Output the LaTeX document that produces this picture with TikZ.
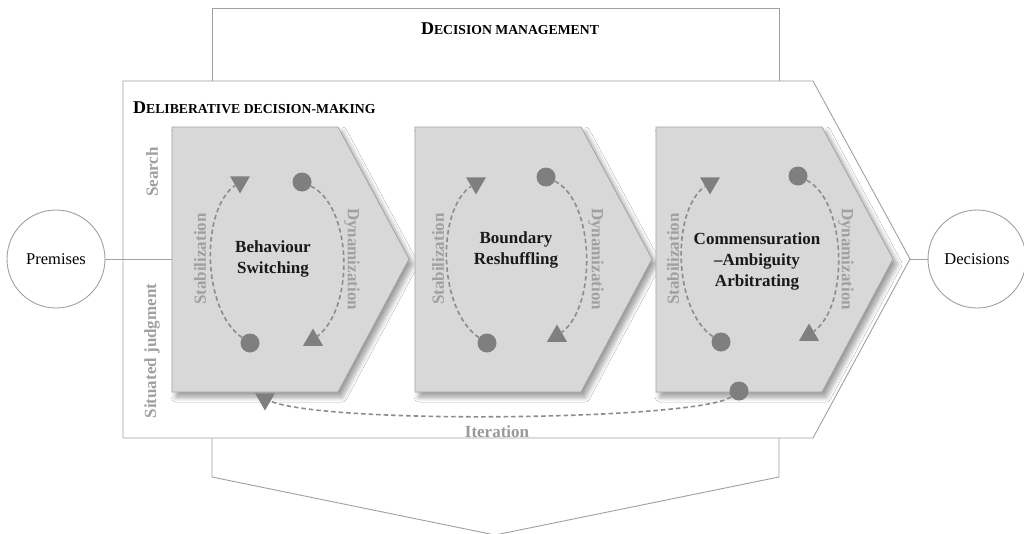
\documentclass[tikz,border=0pt]{standalone}
\usepackage{fontspec}
\setmainfont{Liberation Serif}
\usetikzlibrary{shapes.geometric,shadows.blur}
\definecolor{lineg}{HTML}{A0A0A0}
\definecolor{fillg}{HTML}{D8D8D8}
\definecolor{edgeg}{HTML}{A6A6A6}
\definecolor{markg}{HTML}{7F7F7F}
\definecolor{dashg}{HTML}{8C8C8C}
\definecolor{labg}{HTML}{A0A0A0}
\definecolor{itg}{HTML}{999999}
\newcommand\scfont[1]{{\fontsize{13.7}{16}\selectfont #1}}
\begin{document}
\begin{tikzpicture}[x=1pt,y=-1pt,
  outline/.style={draw=lineg, line width=0.9pt},
  chev/.style={draw=edgeg, line width=0.8pt, fill=fillg,
    blur shadow={shadow xshift=4pt, shadow yshift=-5pt, shadow blur radius=5pt, shadow blur steps=8, shadow opacity=40}},
  dot/.style={circle, fill=markg, minimum size=19pt, inner sep=0pt},
  tridown/.style={regular polygon, regular polygon sides=3, shape border rotate=180, fill=markg, minimum size=23pt, inner sep=0pt},
  triup/.style={regular polygon, regular polygon sides=3, fill=markg, minimum size=23pt, inner sep=0pt},
  dashline/.style={draw=dashg, line width=1.6pt, dash pattern=on 4.5pt off 3pt},
  graylab/.style={text=labg, font=\bfseries\fontsize{17}{20}\selectfont, inner sep=0pt},
  maintext/.style={text=black!90, font=\bfseries\fontsize{17}{21}\selectfont, align=center, inner sep=0pt},
  endcircle/.style={circle, draw=lineg, line width=0.9pt, minimum size=98pt, inner sep=0pt, font=\fontsize{16.5}{20}\selectfont}
]
\useasboundingbox (0,0) rectangle (1024,533);
\fill[white] (0,0) rectangle (1024,533);

% decision management frame
\draw[outline] (212,81) -- (212,8) -- (779,8) -- (779,81);
\draw[outline] (212,438) -- (212,477) -- (495,535) -- (779,477) -- (779,438);
\node[font=\bfseries\fontsize{18}{20}\selectfont, inner sep=0pt] (dmlab) at (510,29) {D\scfont{ECISION MANAGEMENT}};

% deliberative decision-making frame
\draw[outline] (123,81) -- (813,81) -- (910,259) -- (813,438) -- (123,438) -- cycle;
\coordinate (ddtip) at (910,259);
\node[font=\bfseries\fontsize{18}{20}\selectfont, inner sep=0pt, anchor=west] (ddlab) at (133,108) {D\scfont{ELIBERATIVE DECISION-MAKING}};

\node[graylab, rotate=90] (search) at (152,172) {Search};
\node[graylab, rotate=90] (situated) at (152,351) {Situated judgment};

% chevrons
\foreach \x in {172,415,656}
  \draw[chev] (\x,127) -- ++(166,0) -- ++(71,132) -- ++(-71,133) -- ++(-166,0) -- cycle;
\coordinate (s1w) at (172,259);

% end circles
\node[endcircle] (prem) at (56,259) {Premises};
\node[endcircle] (dec) at (977,259) {Decisions};
\draw[outline] (prem) -- (s1w);
\draw[outline] (ddtip) -- (dec);

% texts
\node[maintext] (t1) at (273,259) {Behaviour\\Switching};
\node[maintext] (t2) at (516,250) {Boundary\\Reshuffling};
\node[maintext] (t3) at (757,261) {Commensuration\\–Ambiguity\\Arbitrating};

\node[graylab, rotate=90] (st1) at (200,259) {Stabilization};
\node[graylab, rotate=-90] (dy1) at (352,259) {Dynamization};
\node[graylab, rotate=90] (st2) at (438,259) {Stabilization};
\node[graylab, rotate=-90] (dy2) at (596,259) {Dynamization};
\node[graylab, rotate=90] (st3) at (673,259) {Stabilization};
\node[graylab, rotate=-90] (dy3) at (846,259) {Dynamization};

% markers shape 1
\node[tridown] (a1) at (240,182) {};
\node[dot] (b1) at (302,182) {};
\node[dot] (c1) at (250,343) {};
\node[triup] (d1) at (313,340) {};
% markers shape 2
\node[tridown] (a2) at (476,183) {};
\node[dot] (b2) at (546,177) {};
\node[dot] (c2) at (487,343) {};
\node[triup] (d2) at (557,336) {};
% markers shape 3
\node[tridown] (a3) at (710,183) {};
\node[dot] (b3) at (798,176) {};
\node[dot] (c3) at (721,342) {};
\node[triup] (d3) at (809,335) {};
% iteration markers
\node[dot] (itc) at (739,391) {};
\node[tridown] (itt) at (265,399) {};

% dashed arcs
\draw[dashline] (c1) .. controls (202,310) and (200,210) .. (a1);
\draw[dashline] (b1) .. controls (351,205) and (356,305) .. (d1);
\draw[dashline] (c2) .. controls (438,310) and (436,210) .. (a2);
\draw[dashline] (b2) .. controls (594,200) and (598,305) .. (d2);
\draw[dashline] (c3) .. controls (673,310) and (671,210) .. (a3);
\draw[dashline] (b3) .. controls (846,200) and (850,305) .. (d3);
\draw[dashline] (itc) .. controls (700,420) and (330,425) .. (itt);

\node[graylab, text=itg] (itlab) at (497,432) {Iteration};
\end{tikzpicture}
\end{document}
